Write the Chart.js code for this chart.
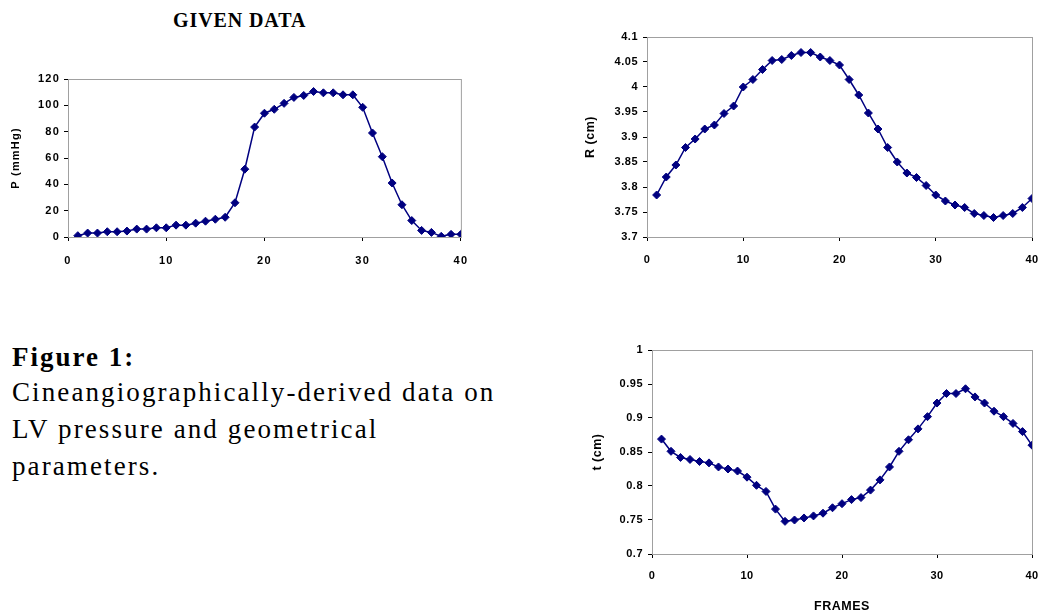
<!DOCTYPE html>
<html>
<head>
<meta charset="utf-8">
<script src="https://cdn.jsdelivr.net/npm/chart.js@4.4.0/dist/chart.umd.min.js"></script>
<style>
  html, body { margin: 0; padding: 0; background: #fff; overflow: hidden; width: 1039px; height: 615px; }
  .box { position: absolute; }
  .txt { position: absolute; font-family: "Liberation Serif", "Times New Roman", serif; color: #000; white-space: nowrap; }
</style>
</head>
<body>
<div class="txt" style="left:173px; top:10px; font-size:20px; line-height:20px; font-weight:bold; letter-spacing:0.9px;">GIVEN DATA</div>
<div class="txt" style="left:12px; top:344px; font-size:27px; line-height:27px; font-weight:bold; letter-spacing:2px;">Figure 1:</div>
<div class="txt" style="left:12px; top:374px; font-size:27px; line-height:37px; letter-spacing:2.1px;">Cineangiographically-derived data on<br>LV pressure and geometrical<br>parameters.</div>

<div class="box" style="left:0px; top:60px;"><canvas id="pChart" width="480" height="225"></canvas></div>
<div class="box" style="left:570px; top:25px;"><canvas id="rChart" width="490" height="260"></canvas></div>
<div class="box" style="left:570px; top:335px;"><canvas id="tChart" width="490" height="280"></canvas></div>

<script>
// frame numbers
var frames = [1, 2, 3, 4, 5, 6, 7, 8, 9, 10, 11, 12, 13, 14, 15, 16, 17, 18, 19, 20,
              21, 22, 23, 24, 25, 26, 27, 28, 29, 30, 31, 32, 33, 34, 35, 36, 37, 38, 39, 40];

// LV pressure, mmHg
var pressure = [1, 3, 3, 4, 4, 4.5, 6, 6, 7, 7, 9, 9, 10.5, 12, 13.5, 15, 26, 51.5, 83.5, 94,
                97, 101.5, 106, 107.5, 110.5, 109.5, 109.5, 108, 108, 98.5, 79, 61, 41, 24.5, 12.5, 5, 3.5, 0.5, 2, 2];

// radius R, cm
var radius = [3.784, 3.820, 3.844, 3.879, 3.896, 3.916, 3.924, 3.947, 3.962, 4.000,
              4.015, 4.035, 4.053, 4.055, 4.063, 4.069, 4.069, 4.060, 4.053, 4.044,
              4.015, 3.984, 3.948, 3.916, 3.879, 3.850, 3.828, 3.819, 3.803, 3.784,
              3.772, 3.764, 3.759, 3.747, 3.743, 3.739, 3.743, 3.747, 3.759, 3.777];

// wall thickness t, cm
var thickness = [0.869, 0.851, 0.842, 0.839, 0.836, 0.834, 0.828, 0.825, 0.822, 0.813,
                 0.801, 0.792, 0.766, 0.748, 0.750, 0.753, 0.756, 0.760, 0.768, 0.774,
                 0.780, 0.783, 0.794, 0.809, 0.828, 0.851, 0.868, 0.884, 0.902, 0.922,
                 0.936, 0.936, 0.943, 0.931, 0.922, 0.910, 0.902, 0.892, 0.880, 0.860];

var xTicks = [0, 10, 20, 30, 40];
var pTicks = [0, 20, 40, 60, 80, 100, 120];
var rTicks = [3.7, 3.75, 3.8, 3.85, 3.9, 3.95, 4, 4.05, 4.1];
var tTicks = [0.7, 0.75, 0.8, 0.85, 0.9, 0.95, 1];

var NAVY = "#000080";
var SANS = "'Liberation Sans', Arial, sans-serif";

// grey frame round the plot area, axes drawn over it in black
var plotFrame = {
    id: "plotFrame",
    beforeDraw: function (chart, args, o) {
        chart.ctx.letterSpacing = o.spacing || "0px";
    },
    beforeDatasetsDraw: function (chart) {
        var a = chart.chartArea, ctx = chart.ctx;
        ctx.save();
        ctx.strokeStyle = "#a0a0a0";
        ctx.lineWidth = 1;
        ctx.strokeRect(a.left + 0.5, a.top + 0.5, a.right - a.left, a.bottom - a.top);
        ctx.restore();
    }
};

function points(ys) {
    return frames.map(function (f, i) { return { x: f, y: ys[i] }; });
}

function makeChart(id, values, yTicks, opt) {
    var ctx = document.getElementById(id).getContext("2d");
    var tickFont = { family: SANS, size: 11, weight: "bold" };
    return new Chart(ctx, {
        type: "line",
        data: {
            datasets: [{
                data: points(values),
                borderColor: NAVY,
                backgroundColor: NAVY,
                borderWidth: 1.5,
                pointStyle: "rectRot",
                pointRadius: 4,
                pointBorderWidth: 1,
                pointBorderColor: NAVY,
                pointBackgroundColor: NAVY,
                tension: 0
            }]
        },
        options: {
            responsive: false,
            animation: false,
            layout: { padding: opt.padding },
            plugins: {
                legend: { display: false },
                tooltip: { enabled: false },
                plotFrame: { spacing: opt.spacing }
            },
            scales: {
                x: {
                    type: "linear",
                    min: 0,
                    max: 40,
                    afterBuildTicks: function (s) { s.ticks = xTicks.map(function (v) { return { value: v }; }); },
                    afterFit: function (s) { s.height = opt.xHeight; },
                    ticks: { font: tickFont, color: "#000", padding: opt.xPad, maxRotation: 0 },
                    grid: { display: true, drawOnChartArea: false, drawTicks: true, tickLength: 4, color: "#000" },
                    border: { color: "#000", width: 1 },
                    title: opt.xTitle ? {
                        display: true,
                        text: opt.xTitle,
                        color: "#000",
                        font: { family: SANS, size: opt.titleSize, weight: "bold" },
                        padding: { top: 0, bottom: 1 }
                    } : { display: false }
                },
                y: {
                    min: yTicks[0],
                    max: yTicks[yTicks.length - 1],
                    afterBuildTicks: function (s) { s.ticks = yTicks.map(function (v) { return { value: v }; }); },
                    afterFit: function (s) { s.width = opt.yWidth; },
                    ticks: {
                        font: tickFont,
                        color: "#000",
                        padding: opt.yPad,
                        callback: function (v) { return String(+(+v).toFixed(2)); }
                    },
                    grid: { display: true, drawOnChartArea: false, drawTicks: true, tickLength: 4, color: "#000" },
                    border: { color: "#000", width: 1 },
                    title: {
                        display: true,
                        text: opt.yTitle,
                        color: "#000",
                        font: { family: SANS, size: opt.titleSize, weight: "bold" },
                        padding: { top: opt.yTitlePad, bottom: 0 }
                    }
                }
            }
        },
        plugins: [plotFrame]
    });
}

makeChart("pChart", pressure, pTicks, {
    padding: { top: 19, right: 10, left: 0, bottom: 0 },
    yWidth: 68, xHeight: 48, xPad: 13, yPad: 4, spacing: "1.2px", titleSize: 11,
    yTitle: "P (mmHg)", yTitlePad: 9
});
makeChart("rChart", radius, rTicks, {
    padding: { top: 12, right: 28, left: 0, bottom: 0 },
    yWidth: 77, xHeight: 48, xPad: 12, yPad: 5, spacing: "0.5px", titleSize: 12.5,
    yTitle: "R (cm)", yTitlePad: 13
});
makeChart("tChart", thickness, tTicks, {
    padding: { top: 15, right: 28, left: 0, bottom: 0 },
    yWidth: 82, xHeight: 61, xPad: 11, yPad: 5, spacing: "0.5px", titleSize: 12.5,
    yTitle: "t (cm)", yTitlePad: 20, xTitle: "FRAMES"
});
</script>
</body>
</html>
